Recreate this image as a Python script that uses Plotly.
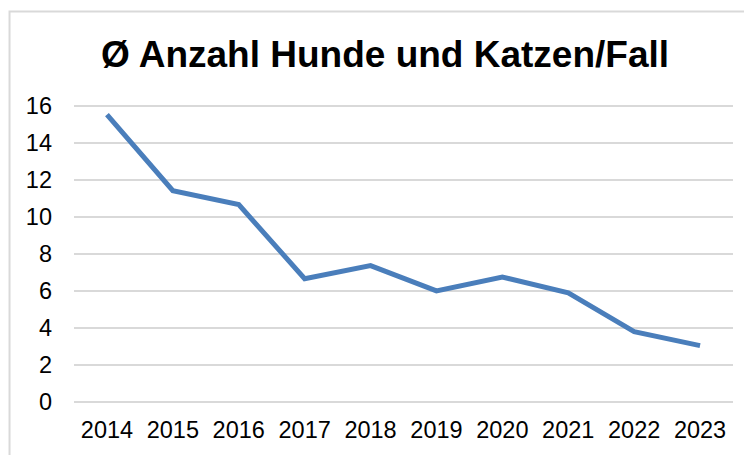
import plotly.graph_objects as go

years = ["2014", "2015", "2016", "2017", "2018", "2019", "2020", "2021", "2022", "2023"]
avg_animals = [15.55, 11.43, 10.68, 6.66, 7.37, 6.0, 6.75, 5.9, 3.8, 3.04]
y_ticks = [0, 2, 4, 6, 8, 10, 12, 14, 16]
title_text = "Ø Anzahl Hunde und Katzen/Fall"

# page has an 8px body margin; work in screenshot pixels and subtract it
OFF = 8
W, H = 752 - OFF, 455 - OFF
pad = 0.12
unit = (404 - 106.3) / 16
L = 73.5 - OFF
R = W - (732.7 - OFF)
T = 106.3 - OFF - pad * unit
B = H - (404 - OFF) - pad * unit

fig = go.Figure()
fig.add_trace(go.Scatter(
    x=years, y=avg_animals, mode="lines",
    line=dict(color="#4a7ebb", width=5),
    hoverinfo="skip", showlegend=False,
))

def px_x(p):
    return (p - OFF - L) / (W - L - R)

def px_y(p):
    return 1 - (p - OFF - T) / (H - T - B)

fig.update_layout(
    width=W, height=H,
    margin=dict(l=L, r=R, t=T, b=B, pad=0),
    paper_bgcolor="white", plot_bgcolor="white",
    font=dict(family="Liberation Sans, Arial, sans-serif", color="black", size=23.5),
    xaxis=dict(
        type="category", range=[-0.5, 9.5], showgrid=False, zeroline=False,
        showline=False, ticks="", tickfont=dict(size=23.5), ticklabelstandoff=9,
    ),
    yaxis=dict(
        range=[-pad, 16 + pad], tickvals=y_ticks, showgrid=True, gridcolor="#d9d9d9",
        gridwidth=1.5, zeroline=True, zerolinecolor="#d9d9d9", zerolinewidth=1.5,
        showline=False, ticks="", tickfont=dict(size=23.5), ticklabelstandoff=21,
    ),
    annotations=[dict(
        text="<b>" + title_text + "</b>", xref="paper", yref="paper",
        x=px_x(385), y=px_y(54), xanchor="center", yanchor="middle",
        showarrow=False, font=dict(size=37, color="black"),
    )],
    shapes=[dict(
        type="rect", xref="paper", yref="paper",
        x0=px_x(9), x1=px_x(780), y0=px_y(480), y1=px_y(11),
        line=dict(color="#d9d9d9", width=2), layer="below",
    )],
)

fig.write_html("out.html")
